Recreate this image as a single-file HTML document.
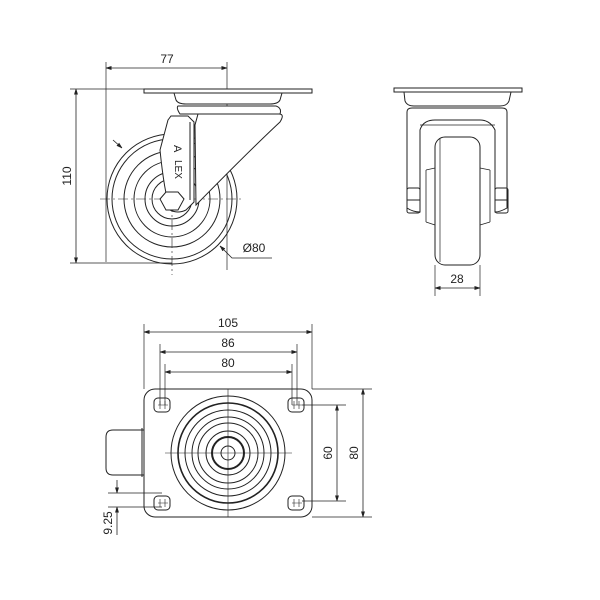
<!DOCTYPE html>
<html><head><meta charset="utf-8"><style>html,body{margin:0;padding:0;background:#fff}svg{display:block}</style></head><body>
<svg width="600" height="600" viewBox="0 0 600 600" xmlns="http://www.w3.org/2000/svg" font-family="Liberation Sans, sans-serif" font-size="12" fill="none" stroke="#222" stroke-width="1">
<defs><marker id="a" viewBox="0 0 10 10" refX="10" refY="5" markerWidth="7" markerHeight="7" orient="auto-start-reverse"><path d="M0,2 L10,5 L0,8z" fill="#222"/></marker></defs>
<!-- TOP LEFT -->
<line x1="106" y1="62" x2="106" y2="262" stroke-width="0.7"/>
<line x1="227" y1="62" x2="227" y2="270" stroke-width="0.7"/>
<line x1="106" y1="68" x2="227" y2="68" marker-start="url(#a)" marker-end="url(#a)" stroke-width="0.8"/>
<text x="167" y="63" text-anchor="middle" fill="#222" stroke="none">77</text>
<line x1="70" y1="89" x2="144" y2="89" stroke-width="0.7"/>
<line x1="70" y1="263" x2="172" y2="263" stroke-width="0.7"/>
<line x1="76" y1="89" x2="76" y2="263" marker-start="url(#a)" marker-end="url(#a)" stroke-width="0.8"/>
<text transform="translate(71,176) rotate(-90)" text-anchor="middle" fill="#222" stroke="none">110</text>
<g stroke-width="1">
<circle cx="172" cy="199" r="65"/><circle cx="172" cy="199" r="60"/><circle cx="172" cy="199" r="48"/><circle cx="172" cy="199" r="38"/><circle cx="172" cy="199" r="27"/><circle cx="172" cy="199" r="20"/>
</g>
<line x1="100" y1="199" x2="244" y2="199" stroke-width="0.6" stroke-dasharray="10,3,2,3"/>
<line x1="172" y1="130" x2="172" y2="275" stroke-width="0.6" stroke-dasharray="10,3,2,3"/>
<path d="M144,89 H312 V93 H144 Z" fill="#fff"/>
<path d="M174,93 H282 L280,100 Q278,104 270,104 H186 Q178,104 176,100 Z" fill="#fff"/>
<path d="M178,106 H276 Q282,108 280,114 H180 Q176,108 178,106Z" fill="#fff"/>
<path d="M198,114 H279 Q285,114 280,122 Q250,150 196,205 L195,125 Z" fill="#fff"/>
<path d="M168,120 L171,116 H188 L194,122 V202 L186,210 Q178,214 170,210 Q164,190 160,150 Z" fill="#fff"/>
<line x1="190" y1="122" x2="190" y2="200"/>
<polygon points="166,192 178,192 184,199 178,210 166,210 160,199" fill="#fff"/>
<text transform="translate(174,145) rotate(90)" fill="#222" stroke="none" font-size="11">A</text>
<text transform="translate(175,160) rotate(90)" fill="#222" stroke="none" font-size="10">LEX</text>
<line x1="113" y1="140" x2="122" y2="148" stroke-width="0.8" marker-end="url(#a)"/>
<path d="M220,246 L232,258 H272" stroke-width="0.8" marker-start="url(#a)"/>
<text x="254" y="252" text-anchor="middle" fill="#222" stroke="none">Ø80</text>
<!-- TOP RIGHT -->
<path d="M394,88 H522 V92 H394 Z"/>
<path d="M404,92 H511 L509,101 Q507,106 500,106 H414 Q407,106 405,101 Z"/>
<path d="M407,112 Q407,108 412,108 H502 Q507,108 507,112 V208 Q500,212 495,212 V130 Q490,120 480,120 H435 Q423,120 420,130 V212 Q413,212 407,208 Z"/>
<path d="M420,125 H495" stroke-width="0.8"/>
<path d="M426,170 L435,168 M480,168 L490,170 M426,222 L435,225 M480,225 L490,222" stroke-width="0.8"/>
<line x1="426" y1="170" x2="426" y2="222" stroke-width="0.8"/><line x1="490" y1="170" x2="490" y2="222" stroke-width="0.8"/>
<rect x="435" y="137" width="45" height="128" rx="10" fill="#fff"/>
<line x1="440" y1="139" x2="440" y2="262" stroke-width="0.7"/>
<rect x="407" y="188" width="13" height="25" rx="2"/><line x1="407" y1="200" x2="420" y2="200"/>
<rect x="495" y="188" width="13" height="25" rx="2"/><line x1="495" y1="200" x2="508" y2="200"/>
<line x1="435" y1="265" x2="435" y2="296" stroke-width="0.7"/><line x1="480" y1="265" x2="480" y2="296" stroke-width="0.7"/>
<line x1="435" y1="288" x2="480" y2="288" marker-start="url(#a)" marker-end="url(#a)" stroke-width="0.8"/>
<text x="457" y="283" text-anchor="middle" fill="#222" stroke="none">28</text>
<!-- BOTTOM -->
<g stroke-width="0.7">
<line x1="144" y1="324" x2="144" y2="389"/><line x1="312" y1="324" x2="312" y2="389"/>
<line x1="160" y1="344" x2="160" y2="405"/><line x1="297" y1="344" x2="297" y2="405"/>
<line x1="165" y1="364" x2="165" y2="405"/><line x1="292" y1="364" x2="292" y2="405"/>
<line x1="312" y1="389" x2="372" y2="389"/><line x1="312" y1="517" x2="372" y2="517"/>
<line x1="302" y1="405" x2="346" y2="405"/><line x1="302" y1="501" x2="346" y2="501"/>
<line x1="108" y1="493" x2="162" y2="493"/><line x1="108" y1="507" x2="162" y2="507"/>
</g>
<line x1="144" y1="332" x2="312" y2="332" marker-start="url(#a)" marker-end="url(#a)" stroke-width="0.8"/>
<text x="228" y="327" text-anchor="middle" fill="#222" stroke="none">105</text>
<line x1="160" y1="352" x2="297" y2="352" marker-start="url(#a)" marker-end="url(#a)" stroke-width="0.8"/>
<text x="228" y="347" text-anchor="middle" fill="#222" stroke="none">86</text>
<line x1="165" y1="372" x2="292" y2="372" marker-start="url(#a)" marker-end="url(#a)" stroke-width="0.8"/>
<text x="228" y="367" text-anchor="middle" fill="#222" stroke="none">80</text>
<line x1="337" y1="405" x2="337" y2="501" marker-start="url(#a)" marker-end="url(#a)" stroke-width="0.8"/>
<text transform="translate(332,453) rotate(-90)" text-anchor="middle" fill="#222" stroke="none">60</text>
<line x1="363" y1="389" x2="363" y2="517" marker-start="url(#a)" marker-end="url(#a)" stroke-width="0.8"/>
<text transform="translate(358,453) rotate(-90)" text-anchor="middle" fill="#222" stroke="none">80</text>
<line x1="117" y1="480" x2="117" y2="493" marker-end="url(#a)" stroke-width="0.8"/>
<line x1="117" y1="535" x2="117" y2="507" marker-end="url(#a)" stroke-width="0.8"/>
<text transform="translate(112,523) rotate(-90)" text-anchor="middle" fill="#222" stroke="none">9.25</text>
<path d="M144,430 H113 Q106,430 106,437 V468 Q106,475 113,475 H144"/>
<line x1="142" y1="428" x2="142" y2="477"/>
<rect x="144" y="389" width="168" height="128" rx="11"/>
<g>
<rect x="154" y="398" width="16" height="14" rx="4"/><rect x="288" y="398" width="16" height="14" rx="4"/>
<rect x="154" y="496" width="16" height="14" rx="4"/><rect x="288" y="496" width="16" height="14" rx="4"/>
</g>
<g stroke-width="0.6">
<path d="M160,401 V409 M165,401 V409 M158,405 H168 M294,401 V409 M299,401 V409 M292,405 H302 M160,499 V507 M165,499 V507 M158,503 H168 M294,499 V507 M299,499 V507 M292,503 H302"/>
</g>
<circle cx="228" cy="453" r="57"/><circle cx="228" cy="453" r="50" stroke-width="1.6"/><circle cx="228" cy="453" r="43"/><circle cx="228" cy="453" r="36"/><circle cx="228" cy="453" r="30"/><circle cx="228" cy="453" r="22" stroke-width="1"/><circle cx="228" cy="453" r="16" stroke-width="2"/><circle cx="228" cy="453" r="7"/>
<line x1="228" y1="389" x2="228" y2="517" stroke-width="0.6"/>
<line x1="165" y1="453" x2="292" y2="453" stroke-width="0.6"/>
</svg>
</body></html>
